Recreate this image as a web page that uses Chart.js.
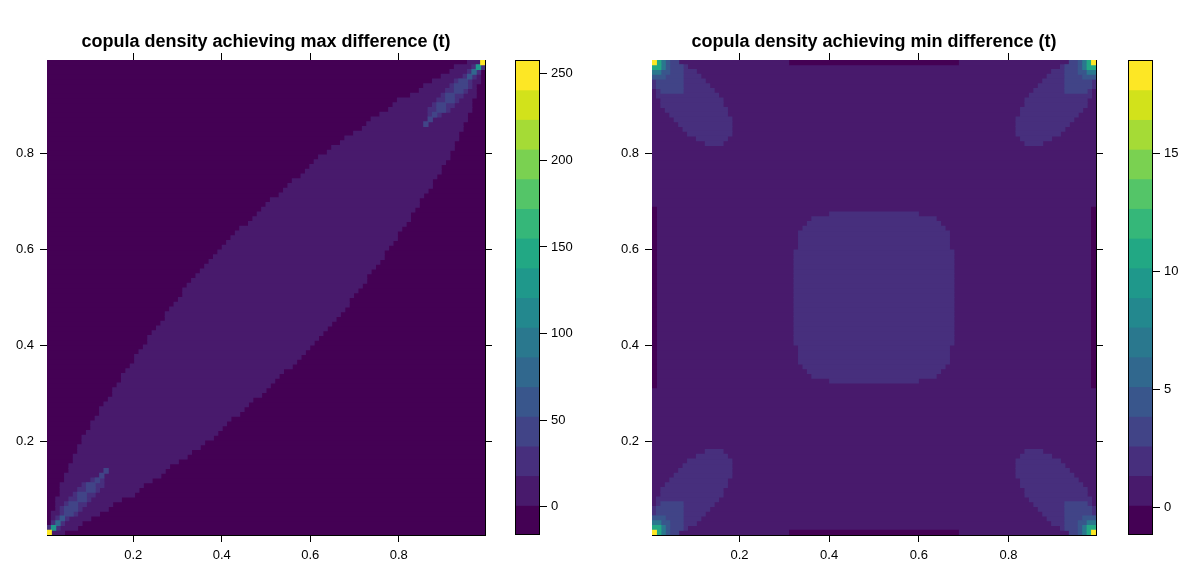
<!DOCTYPE html>
<html>
<head>
<meta charset="utf-8">
<script src="https://cdn.jsdelivr.net/npm/chart.js@4.4.1/dist/chart.umd.min.js"></script>
<style>
  body { margin: 0; background: #fff; }
  #wrap { position: relative; width: 1193px; height: 569px; }
  canvas { position: absolute; top: 0; }
</style>
</head>
<body>
<div id="wrap">
  <canvas id="maxChart" width="532" height="569" style="left:0px"></canvas>
  <canvas id="maxKey" width="100" height="569" style="left:500px"></canvas>
  <canvas id="minChart" width="548" height="569" style="left:600px"></canvas>
  <canvas id="minKey" width="81" height="569" style="left:1112px"></canvas>
</div>
<script>
// 16 colour levels of the key (viridis)
const viridis = ["#440154", "#481A6C", "#472F7D", "#414487", "#39568C", "#31688E", "#2A788E", "#23888E",
  "#1F988B", "#22A884", "#35B779", "#54C568", "#7AD151", "#A5DB36", "#D2E21B", "#FDE725"];

const axisTicks = [0.2, 0.4, 0.6, 0.8];

// colour key breaks and labels
const maxBreaks = [-16.4, 0.75, 17.9, 35.0, 52.2, 69.3, 86.5, 103.6, 120.8, 137.9, 155.1, 172.2, 189.4, 206.5, 223.7, 240.8, 258.0];
const maxKeyTicks = [0, 50, 100, 150, 200, 250];
const minBreaks = [-1.17, 0.09, 1.35, 2.60, 3.86, 5.12, 6.38, 7.64, 8.89, 10.15, 11.41, 12.67, 13.93, 15.18, 16.44, 17.70, 18.96];
const minKeyTicks = [0, 5, 10, 15];

// max panel: 100x100 grid, level 0 everywhere except the diagonal band (level 1)
// first / last column of the band in each row (row 0 = bottom)
const maxBandFrom = [0, 0, 1, 1, 1, 2, 2, 2, 3, 3, 3, 4, 4, 5, 5, 6, 6, 7, 7, 8,
  8, 9, 10, 10, 11, 12, 12, 13, 14, 15, 15, 16, 17, 17, 18, 19, 20, 20, 21, 22,
  23, 23, 24, 25, 26, 27, 27, 28, 29, 30, 31, 31, 32, 33, 34, 35, 36, 37, 38, 39,
  40, 41, 42, 43, 44, 46, 47, 48, 49, 50, 51, 53, 54, 55, 56, 58, 59, 60, 61, 62,
  64, 65, 67, 68, 70, 72, 73, 74, 76, 78, 79, 80, 83, 85, 86, 88, 90, 92, 93, 96];
const maxBandTo = [3, 6, 7, 9, 11, 13, 14, 16, 19, 20, 21, 23, 25, 26, 27, 29, 31, 32, 34, 35,
  37, 38, 39, 40, 41, 43, 44, 45, 46, 48, 49, 50, 51, 52, 53, 55, 56, 57, 58, 59,
  60, 61, 62, 63, 64, 65, 66, 67, 68, 68, 69, 70, 71, 72, 72, 73, 74, 75, 76, 76,
  77, 78, 79, 79, 80, 81, 82, 82, 83, 84, 84, 85, 86, 87, 87, 88, 89, 89, 90, 91,
  91, 92, 92, 93, 93, 94, 94, 95, 95, 96, 96, 96, 97, 97, 97, 98, 98, 98, 99, 99];
// brighter cells on the diagonal near (0,0): [row, fromCol, toCol, level]
// the same pattern sits point-mirrored near (1,1)
const maxDiagCells = [
  [1, 0, 2, 2], [2, 1, 3, 2], [3, 2, 4, 2], [4, 3, 6, 2], [5, 3, 7, 2], [6, 4, 8, 2],
  [7, 5, 9, 2], [8, 6, 10, 2], [9, 7, 11, 2], [10, 8, 12, 2], [11, 10, 12, 2],
  [4, 4, 5, 3], [5, 4, 6, 3], [6, 5, 6, 3], [7, 7, 8, 3], [8, 7, 8, 3], [9, 9, 10, 3],
  [10, 9, 10, 3], [11, 11, 11, 3], [12, 12, 12, 3], [13, 13, 13, 3],
  [3, 3, 3, 4], [2, 2, 2, 5], [1, 1, 1, 8], [0, 0, 0, 15]
];

// min panel: level 1 everywhere, level 0 strips on the edges, level 2 centre square
const minEdgeStrip = [31, 68];
// [fromRow, toRow, fromCol, toCol]
const minSquare = [
  [32, 32, 40, 59], [33, 33, 36, 63], [34, 34, 35, 64], [35, 35, 34, 65], [36, 39, 33, 66],
  [40, 59, 32, 67], [60, 63, 33, 66], [64, 64, 34, 65], [65, 65, 35, 64], [66, 66, 36, 63],
  [67, 67, 40, 59]
];
// blob in the top-left corner: [rows below top edge, fromCol, toCol, level]
// the other three corners show the mirror images
const minCorner = [
  [0, 0, 5, 2], [1, 0, 7, 2], [2, 0, 9, 2], [3, 0, 10, 2], [4, 0, 11, 2], [5, 0, 12, 2],
  [6, 1, 13, 2], [7, 1, 14, 2], [8, 2, 15, 2], [9, 2, 15, 2], [10, 3, 16, 2], [11, 4, 16, 2],
  [12, 5, 17, 2], [13, 6, 17, 2], [14, 7, 17, 2], [15, 8, 17, 2], [16, 10, 16, 2], [17, 12, 15, 2],
  [0, 0, 5, 3], [1, 0, 6, 3], [2, 0, 6, 3], [3, 0, 6, 3], [4, 1, 6, 3], [5, 1, 6, 3], [6, 2, 6, 3],
  [0, 0, 3, 4], [1, 0, 3, 4], [2, 0, 3, 4], [3, 0, 2, 4],
  [0, 0, 2, 6], [1, 0, 2, 6], [2, 0, 1, 6],
  [0, 0, 1, 9], [1, 0, 1, 9],
  [0, 0, 0, 15]
];

Chart.defaults.font.family = "'Liberation Sans', Arial, Helvetica, sans-serif";
Chart.defaults.color = "#000";

// grid cell centres are (i+1)/101
function cell(row, c0, c1, level) {
  return { y: (row + 1) / 101, x: [(c0 + 0.5) / 101, (c1 + 1.5) / 101], level: level };
}

const maxCells = [];
for (let r = 0; r < 100; r++) maxCells.push(cell(r, 0, 99, 0));
for (let r = 0; r < 100; r++) maxCells.push(cell(r, maxBandFrom[r], maxBandTo[r], 1));
maxDiagCells.forEach(([r, a, b, lev]) => {
  maxCells.push(cell(r, a, b, lev));
  maxCells.push(cell(99 - r, 99 - b, 99 - a, lev));
});

const minCells = [];
for (let r = 0; r < 100; r++) minCells.push(cell(r, 0, 99, 1));
for (let r = minEdgeStrip[0]; r <= minEdgeStrip[1]; r++) {
  minCells.push(cell(r, 0, 0, 0));
  minCells.push(cell(r, 99, 99, 0));
}
minCells.push(cell(0, minEdgeStrip[0], minEdgeStrip[1], 0));
minCells.push(cell(99, minEdgeStrip[0], minEdgeStrip[1], 0));
minSquare.forEach(([r0, r1, a, b]) => {
  for (let r = r0; r <= r1; r++) minCells.push(cell(r, a, b, 2));
});
minCorner.forEach(([k, a, b, lev]) => {
  minCells.push(cell(99 - k, a, b, lev));
  minCells.push(cell(k, a, b, lev));
  minCells.push(cell(99 - k, 99 - b, 99 - a, lev));
  minCells.push(cell(k, 99 - b, 99 - a, lev));
});

const lo = 0.5 / 101, hi = 100.5 / 101;

function frameAxis(position, showLabels, size) {
  const horizontal = position === "top" || position === "bottom";
  return {
    type: "linear", position: position, min: lo, max: hi, offset: false,
    afterBuildTicks: s => { s.ticks = axisTicks.map(v => ({ value: v })); },
    afterFit: s => { if (horizontal) s.height = size; else s.width = size; },
    grid: { drawOnChartArea: false, drawTicks: true, tickLength: 7, color: "#000", lineWidth: 1, offset: false },
    border: { display: true, color: "#000", width: 1 },
    ticks: { display: showLabels, padding: 6, font: { size: 13 }, callback: v => v.toFixed(1) }
  };
}

// paint the plot area with the first colour so sub-pixel row edges never show white
const areaFill = {
  id: "areaFill",
  beforeDatasetsDraw(chart, args, opts) {
    const a = chart.chartArea, ctx = chart.ctx;
    ctx.save();
    ctx.fillStyle = opts.color;
    ctx.fillRect(a.left, a.top, a.right - a.left, a.bottom - a.top);
    ctx.restore();
  }
};

function heatmap(id, cells, title, side, baseLevel) {
  new Chart(document.getElementById(id), {
    type: "bar",
    data: {
      datasets: [{
        data: cells,
        backgroundColor: c => viridis[c.raw.level],
        borderWidth: 0,
        inflateAmount: 0.5,
        barPercentage: 1,
        categoryPercentage: 1
      }]
    },
    options: {
      indexAxis: "y",
      responsive: false,
      animation: false,
      events: [],
      layout: { padding: 0 },
      plugins: {
        legend: { display: false },
        tooltip: { enabled: false },
        areaFill: { color: viridis[baseLevel] },
        title: {
          display: true,
          text: title,
          font: { size: 18, weight: "bold", lineHeight: 1 },
          padding: { top: 33, bottom: 0 }
        }
      },
      scales: {
        x: frameAxis("bottom", true, 34),
        xTop: frameAxis("top", false, 9),
        y: frameAxis("left", true, side),
        yRight: frameAxis("right", false, side)
      }
    },
    plugins: [areaFill]
  });
}

const framePlugin = {
  id: "frame",
  afterDatasetsDraw(chart) {
    const a = chart.chartArea, ctx = chart.ctx;
    ctx.save();
    ctx.strokeStyle = "#000";
    ctx.lineWidth = 1;
    ctx.strokeRect(Math.round(a.left) + 0.5, Math.round(a.top) + 0.5,
      Math.round(a.right - a.left) - 1, Math.round(a.bottom - a.top) - 1);
    ctx.restore();
  }
};

function colourKey(id, breaks, ticks, padLeft, axisWidth) {
  new Chart(document.getElementById(id), {
    type: "bar",
    data: {
      labels: ["key"],
      datasets: [{
        data: breaks.slice(0, -1).map((b, i) => ({ x: "key", y: [b, breaks[i + 1]] })),
        backgroundColor: viridis,
        borderWidth: 0,
        inflateAmount: 0.5,
        barPercentage: 1,
        categoryPercentage: 1
      }]
    },
    options: {
      responsive: false,
      animation: false,
      events: [],
      layout: { padding: { left: padLeft, top: 60, bottom: 34, right: 0 } },
      plugins: { legend: { display: false }, tooltip: { enabled: false } },
      scales: {
        x: { type: "category", display: false },
        y: {
          position: "right",
          min: breaks[0],
          max: breaks[breaks.length - 1],
          afterBuildTicks: s => { s.ticks = ticks.map(v => ({ value: v })); },
          afterFit: s => { s.width = axisWidth; },
          grid: { drawOnChartArea: false, drawTicks: true, tickLength: 7, color: "#000" },
          border: { display: false },
          ticks: { padding: 4, font: { size: 13 } }
        }
      }
    },
    plugins: [framePlugin]
  });
}

heatmap("maxChart", maxCells, "copula density achieving max difference (t)", 47, 0);
heatmap("minChart", minCells, "copula density achieving min difference (t)", 52, 1);
colourKey("maxKey", maxBreaks, maxKeyTicks, 15, 60);
colourKey("minKey", minBreaks, minKeyTicks, 16, 40);
</script>
</body>
</html>
